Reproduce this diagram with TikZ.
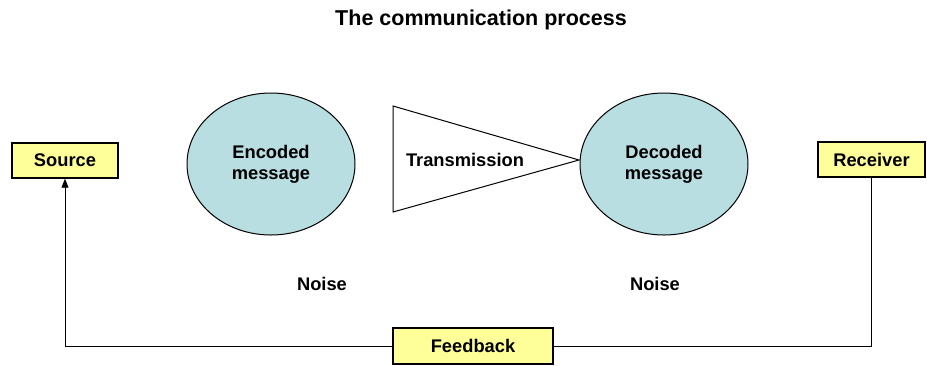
\documentclass[tikz,border=0pt]{standalone}
\usepackage{fontspec}
\setmainfont{Liberation Sans}
\usetikzlibrary{shapes.geometric,arrows.meta}
\definecolor{boxyellow}{RGB}{255,255,153}
\definecolor{msgblue}{RGB}{184,222,226}
\tikzset{
  label text/.style={font=\bfseries\fontsize{18.3}{21}\selectfont, text=black},
  title text/.style={font=\bfseries\fontsize{21.5}{25}\selectfont, text=black},
  yellowbox/.style={draw=black, line width=1.4pt, fill=boxyellow, inner sep=0pt, label text},
  msg/.style={draw=black, line width=1pt, fill=msgblue, ellipse, inner sep=0pt, minimum width=168pt, minimum height=142pt, align=center, label text},
  link/.style={draw=black, line width=0.9pt},
}
\begin{document}
\begin{tikzpicture}[x=1pt,y=-1pt]
  \useasboundingbox (0,0) rectangle (927,365);
  \fill[white] (0,0) rectangle (927,365);

  % title
  \node[title text] (title) at (481,20) {The communication process};

  % end points of the process
  \node[yellowbox, minimum width=106pt, minimum height=35pt] (source) at (65,160.5) {Source};
  \node[yellowbox, minimum width=107pt, minimum height=35pt] (receiver) at (871.5,159.5) {Receiver};
  \node[yellowbox, minimum width=160pt, minimum height=36pt] (feedback) at (473,346) {Feedback};

  % encoded and decoded messages
  \node[msg] (encoded) at (271,164) {Encoded\\message};
  \node[msg] (decoded) at (664,164) {Decoded\\message};

  % transmission channel
  \coordinate (tA) at (393,106);
  \coordinate (tB) at (393,212);
  \coordinate (tC) at (579,160);
  \draw[line width=1pt, fill=white] (tA) -- (tC) -- (tB) -- cycle;
  \node[label text] (transmission) at (465,160) {Transmission};

  % noise
  \node[label text] (noise1) at (322,284) {Noise};
  \node[label text] (noise2) at (655,284) {Noise};

  % feedback loop
  \draw[link] (receiver.south) |- (feedback.east);
  \draw[link, -{Triangle[length=9pt,width=7pt]}] (feedback.west) -| (source.south);
\end{tikzpicture}
\end{document}
